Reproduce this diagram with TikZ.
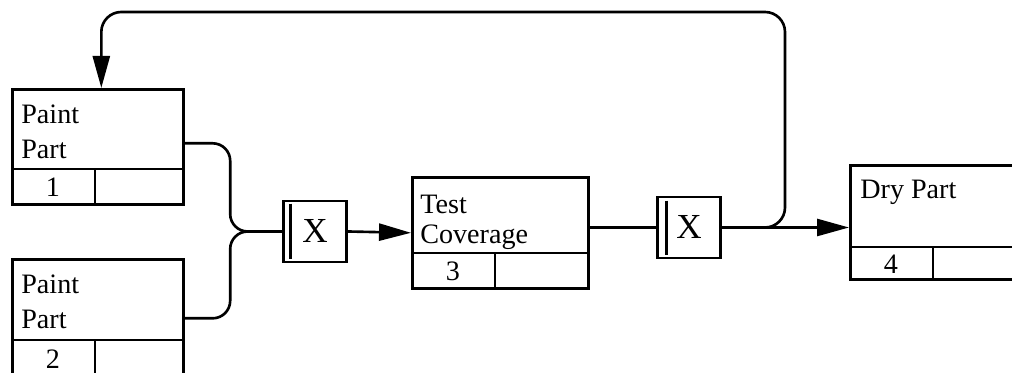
\documentclass[tikz,border=0pt]{standalone}
\usepackage{fontspec}
\setmainfont{Liberation Serif}
\newfontfamily\boxfont{Liberation Serif}
\usepackage{tikz}
\usetikzlibrary{arrows.meta}

\tikzset{
  act/.style={draw, line width=1.5pt, rectangle, inner sep=0pt, anchor=north west},
  jbox/.style={draw, line width=1.5pt, rectangle, inner sep=0pt,
    minimum width=1.26cm, minimum height=1.22cm, font=\boxfont\fontsize{20}{24}\selectfont},
  lbl/.style={inner sep=0pt, anchor=north west, align=left, font=\boxfont\fontsize{16}{19.5}\selectfont},
  num/.style={inner sep=0pt, font=\boxfont\fontsize{16}{19.5}\selectfont},
  flow/.style={line width=1.5pt},
  tip/.style={-{Triangle[length=0.64cm,width=0.34cm]}}
}

\begin{document}
\begin{tikzpicture}
\useasboundingbox (0,0) rectangle (20.24,7.46);
\clip (0,0) rectangle (20.24,7.46);
%activity boxes
\node[act, minimum width=3.42cm, minimum height=2.30cm] (pp1) at (0.22,5.70) {};
\node[act, minimum width=3.42cm, minimum height=2.36cm] (pp2) at (0.22,2.30) {};
\node[act, minimum width=3.52cm, minimum height=2.22cm] (test) at (8.22,3.94) {};
\node[act, minimum width=3.52cm, minimum height=2.28cm] (dry) at (16.98,4.18) {};
\node[lbl] (pp1t) at ([xshift=0.20cm,yshift=-0.34cm]pp1.north west) {Paint\\Part};
\node[lbl] (pp2t) at ([xshift=0.20cm,yshift=-0.34cm]pp2.north west) {Paint\\Part};
\node[lbl, font=\boxfont\fontsize{16}{17}\selectfont] (testt) at ([xshift=0.18cm,yshift=-0.38cm]test.north west) {Test\\Coverage};
\node[lbl] (dryt) at ([xshift=0.22cm,yshift=-0.32cm]dry.north west) {Dry Part};
%footers
\foreach \b/\h/\n in {pp1/1.62/1, pp2/1.64/2, test/1.54/3, dry/1.66/4}{
  \draw[flow] ([yshift=-\h cm]\b.north west) -- ([yshift=-\h cm]\b.north east);
  \draw[flow] ([xshift=1.68cm,yshift=-\h cm]\b.north west) -- ([xshift=1.68cm]\b.south west);
  \path ([yshift=-\h cm]\b.north west) -- ([xshift=1.68cm]\b.south west) node[num, midway] {\n};
}
%junctions
\node[jbox] (x1) at (6.30,2.83) {X};
\node[jbox] (x2) at (13.78,2.91) {X};
\draw[flow] ([xshift=0.16cm,yshift=-0.08cm]x1.north west) -- ([xshift=0.16cm,yshift=0.08cm]x1.south west);
\draw[flow] ([xshift=0.20cm,yshift=-0.10cm]x2.north west) -- ([xshift=0.20cm,yshift=0.08cm]x2.south west);
%links
\coordinate (j1) at ([xshift=-1.04cm]x1.west);
\coordinate (fb) at (15.70,7.22);
\draw[flow, rounded corners=0.35cm] ([yshift=0.07cm]pp1.east) -| (j1) -- (x1.west);
\draw[flow, rounded corners=0.35cm] (pp2.east) -| (j1) -- (x1.west);
\draw[flow, tip] (x1.east) -- (test.west);
\draw[flow] (test.east |- x2.west) -- (x2.west);
\draw[flow, tip] (x2.east) -- (x2.east -| dry.west);
\draw[flow, tip, rounded corners=0.4cm] (x2.east) -| (fb) -| ([xshift=0.07cm]pp1.north);
\end{tikzpicture}
\end{document}
